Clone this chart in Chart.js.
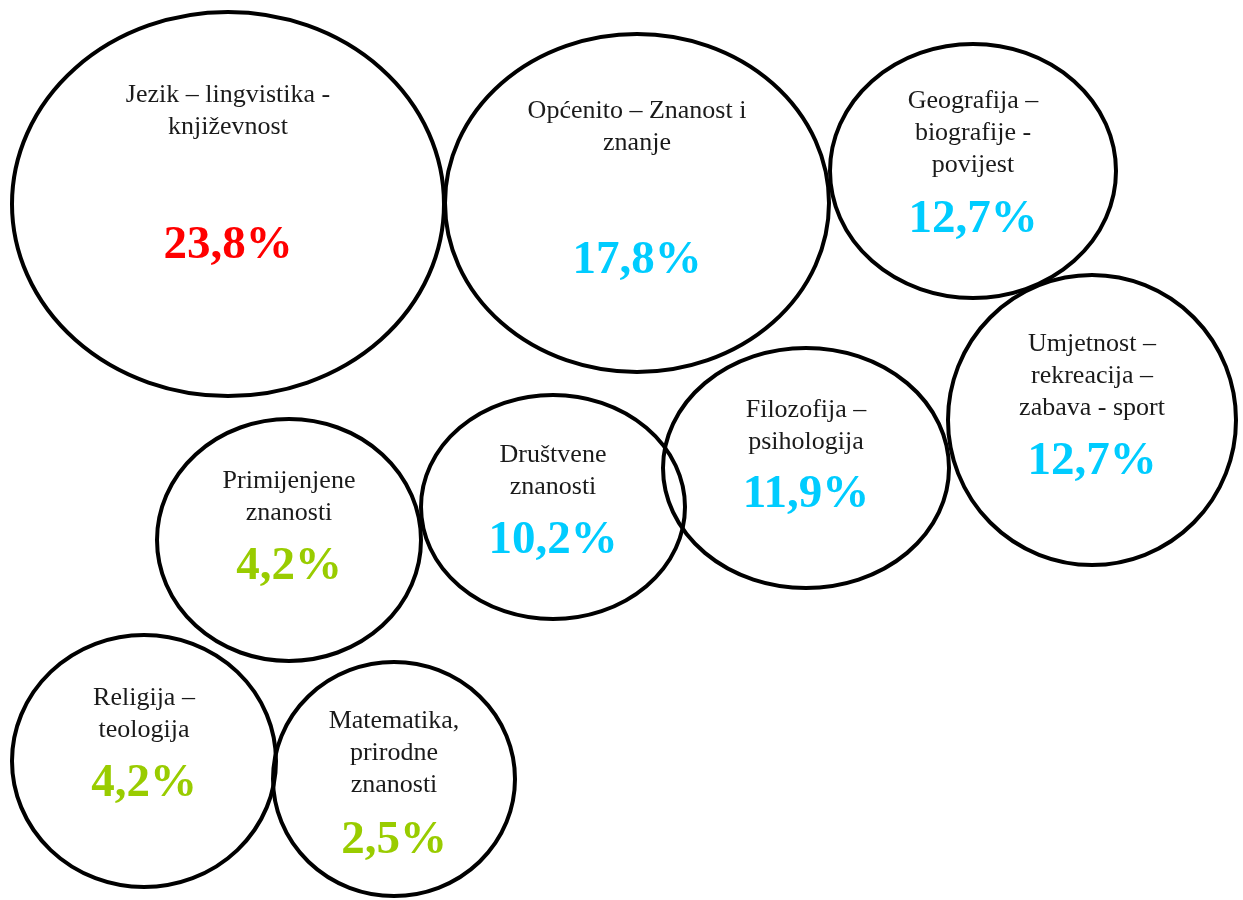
<!DOCTYPE html>
<html>
<head>
<meta charset="utf-8">
<script src="https://cdn.jsdelivr.net/npm/chart.js@4/dist/chart.umd.min.js"></script>
<style>
  html, body { margin: 0; padding: 0; background: #fff; }
  #wrap { width: 1243px; height: 900px; }
</style>
</head>
<body>
<div id="wrap"><canvas id="myChart" width="1243" height="900"></canvas></div>
<script>
// categories (each line of the label)
var categories = [
    ['Jezik \u2013 lingvistika -', 'književnost'],
    ['Općenito \u2013 Znanost i', 'znanje'],
    ['Geografija \u2013', 'biografije -', 'povijest'],
    ['Umjetnost \u2013', 'rekreacija \u2013', 'zabava - sport'],
    ['Filozofija \u2013', 'psihologija'],
    ['Društvene', 'znanosti'],
    ['Primijenjene', 'znanosti'],
    ['Religija \u2013', 'teologija'],
    ['Matematika,', 'prirodne', 'znanosti']
];
// share in percent
var shares = [23.8, 17.8, 12.7, 12.7, 11.9, 10.2, 4.2, 4.2, 2.5];
// bubble centres and half-axes (in chart units)
var bubbleX  = [228, 637, 973, 1092, 806, 553, 289, 144, 394];
var bubbleY  = [204, 203, 171, 420, 468, 507, 540, 761, 779];
var bubbleRx = [216, 192, 143, 144, 143, 132, 132, 132, 121];
var bubbleRy = [192, 169, 127, 145, 120, 112, 121, 126, 117];

// label placement relative to bubble centre (layout only)
var labelDy = [-102, -85, -63, -69, -51, -45, -52, -56, -51];
var pctDy   = [54, 70, 61, 54, 39, 46, 39, 35, 74];
var lineH = 32;

function pctColor(v){
    if(v >= 20) return '#ff0000';
    if(v >= 10) return '#00ccff';
    return '#99cc00';
}

var points = [];
for(var i=0;i<shares.length;i++){
    points.push({x: bubbleX[i], y: bubbleY[i], r: 0, rx: bubbleRx[i], ry: bubbleRy[i]});
}

var ellipsePlugin = {
    id: 'ellipses',
    afterDatasetsDraw: function(chart){
        var ctx = chart.ctx;
        var xs = chart.scales.x, ys = chart.scales.y;
        ctx.save();
        points.forEach(function(p, i){
            var cx = xs.getPixelForValue(p.x);
            var cy = ys.getPixelForValue(p.y);
            var rx = Math.abs(xs.getPixelForValue(p.x + p.rx) - cx);
            var ry = Math.abs(ys.getPixelForValue(p.y + p.ry) - cy);
            ctx.beginPath();
            ctx.ellipse(cx, cy, rx, ry, 0, 0, Math.PI*2);
            ctx.lineWidth = 4;
            ctx.strokeStyle = '#000';
            ctx.stroke();

            ctx.textAlign = 'center';
            ctx.textBaseline = 'alphabetic';
            ctx.fillStyle = '#1a1a1a';
            ctx.font = '26px "Liberation Serif", serif';
            categories[i].forEach(function(line, k){
                ctx.fillText(line, cx, cy + labelDy[i] + k*lineH);
            });
            ctx.font = 'bold 47px "Liberation Serif", serif';
            ctx.fillStyle = pctColor(shares[i]);
            ctx.fillText(shares[i].toFixed(1).replace('.', ',') + '%', cx, cy + pctDy[i]);
        });
        ctx.restore();
    }
};

var ctx = document.getElementById('myChart').getContext('2d');
var chart = new Chart(ctx, {
    type: 'bubble',
    data: {
        datasets: [{
            label: 'udio',
            data: points,
            backgroundColor: 'rgba(0,0,0,0)',
            borderColor: 'rgba(0,0,0,0)'
        }]
    },
    options: {
        responsive: false,
        animation: false,
        layout: { padding: 0 },
        scales: {
            x: { type: 'linear', min: 0, max: 1243, display: false },
            y: { type: 'linear', min: 0, max: 900, reverse: true, display: false }
        },
        plugins: {
            legend: { display: false },
            tooltip: { enabled: false }
        }
    },
    plugins: [ellipsePlugin]
});
</script>
</body>
</html>
